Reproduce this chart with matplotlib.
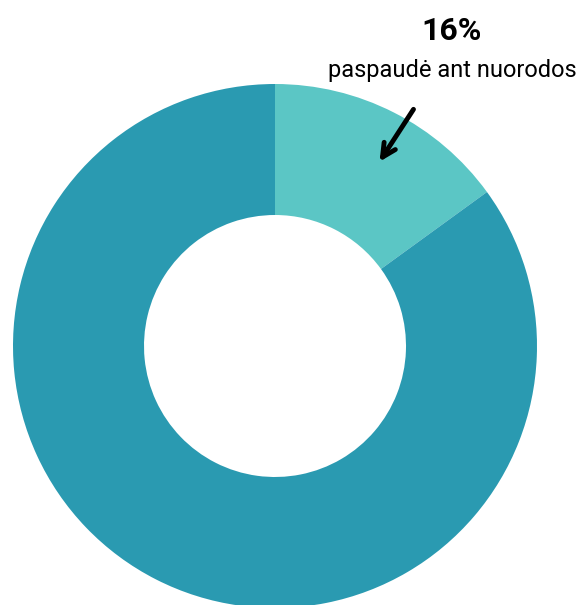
import matplotlib.pyplot as plt

# slice sizes as drawn in the chart, and the annotation text
labels = ["paspaudė ant nuorodos", "kiti"]
values = [15, 85]
colors = ["#5BC6C5", "#2A9AB1"]
pct_text = "16%"

plt.rcParams["font.family"] = ["Roboto", "DejaVu Sans"]

fig = plt.figure(figsize=(5.79, 6.05), dpi=100)
ax = fig.add_axes([0, 0, 1, 1])
ax.set_xlim(0, 579)
ax.set_ylim(0, 605)
ax.set_aspect("equal")
ax.axis("off")

ax.pie(values, colors=colors, startangle=90, counterclock=False,
       center=(275, 259), radius=262,
       wedgeprops={"width": 131, "linewidth": 0})
ax.set_xlim(0, 579)
ax.set_ylim(0, 605)

ax.text(452, 574, pct_text, ha="center", va="center", fontsize=23, fontweight="bold", color="black")
ax.text(452, 535, labels[0], ha="center", va="center", fontsize=17, color="black")

ax.annotate("", xy=(378, 441), xytext=(415, 498),
            arrowprops=dict(arrowstyle="->", lw=3.5, color="black", mutation_scale=24))

fig.savefig("out.png", dpi=100)
